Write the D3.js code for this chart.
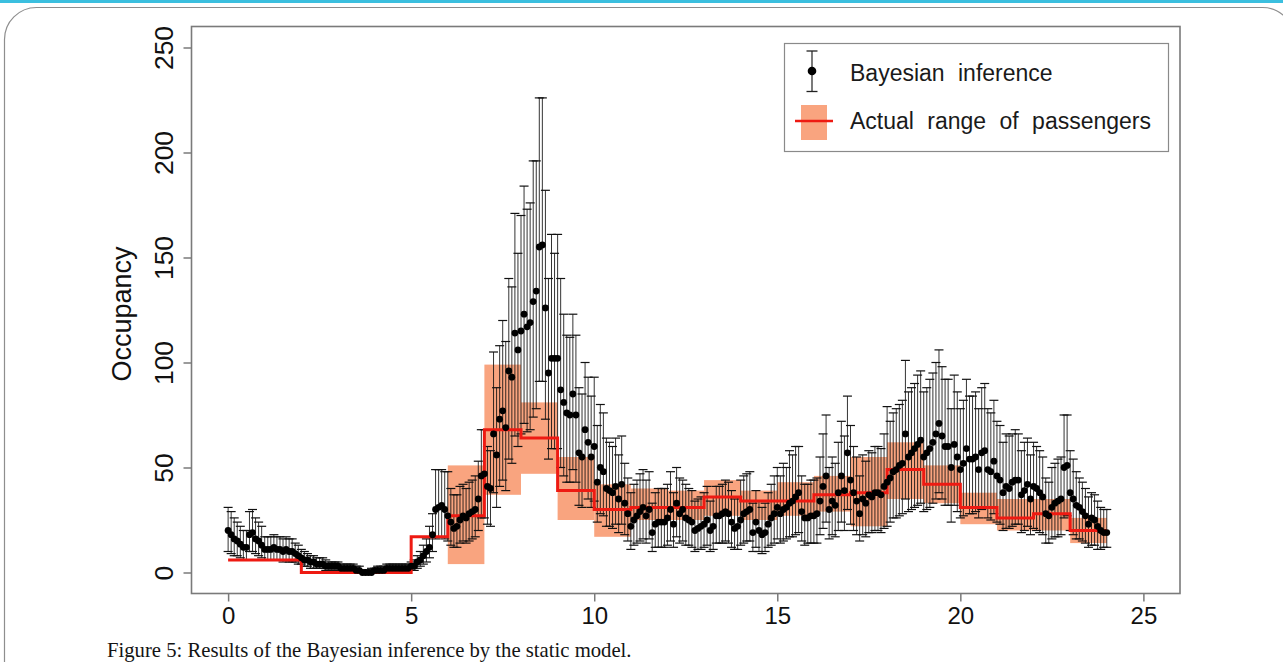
<!DOCTYPE html>
<html>
<head>
<meta charset="utf-8">
<script src="https://cdn.jsdelivr.net/npm/d3@7"></script>
<style>
  html, body { margin: 0; padding: 0; background: #fff; }
  svg { display: block; }
</style>
</head>
<body>
<svg id="fig" width="1283" height="662"></svg>
<script>
// Bayesian estimate of bus occupancy, one value every 5 minutes from 0:00 to 24:00
const stepMinutes = 5;
const occupancyMean = [
  20,18,16,15,13.5,12,12,18,19,16,15,13,
  11,11,11,12,11,11,10,11,10,10,9,8,
  7,6,6,5,5,4,4,4,3,3,3,3,
  3,2,2,2,2,2,1,1,0,0,0,0,
  1,1,1,1,2,2,2,2,2,2,2,2,
  3,3,5,6,8,10,12,18,30,31,32,30,
  27,24,21,22,25,27,26,28,29,30,35,46,
  47,41,40,66,56,73,77,69,96,93,114,106,
  115,123,117,119,129,134,155,156,126,95,102,102,
  102,87,81,76,75,85,75,57,55,68,62,55,
  60,43,50,48,40,39,38,41,35,42,33,28,
  22,25,27,29,31,27,30,19,23,24,24,24,
  26,30,23,33,28,30,26,25,24,20,21,22,
  23,25,20,22,27,27,28,29,28,24,21,22,
  25,28,29,30,19,24,20,18,19,23,26,28,
  31,28,30,31,33,34,36,38,29,26,26,27,
  27,28,34,41,46,30,34,32,38,46,39,57,
  44,38,34,28,35,33,37,36,38,38,37,41,
  43,45,48,49,51,52,66,55,57,59,61,63,
  55,57,59,62,66,71,65,60,60,50,61,55,
  49,52,59,54,54,55,49,57,58,49,48,53,
  46,44,38,41,40,43,44,44,37,39,42,35,
  41,40,38,36,28,27,31,33,34,35,50,51,
  38,35,32,31,29,27,23,26,25,22,20,19,
  19
];
// upper end of each credible interval
const occupancyUpper = [
  31,29,26,24,22,20,20,29,30,26,24,22,
  17,17,17,18,17,17,16,17,16,16,14,13,
  11,10,9,8,8,7,7,7,6,5,5,5,
  5,4,4,4,4,4,3,3,1,1,1,2,
  2,3,3,3,4,4,4,4,4,4,4,4,
  5,6,8,10,13,16,22,28,49,49,49,48,
  48,40,37,37,41,42,40,43,44,46,53,68,
  68,60,58,105,88,108,120,110,140,136,171,152,
  170,184,173,176,196,196,226,226,182,140,161,152,
  161,140,123,113,112,123,113,88,85,100,93,84,
  93,70,80,76,64,62,60,64,56,65,52,45,
  38,42,44,47,49,44,48,33,38,40,40,40,
  42,48,38,50,45,44,42,40,39,34,35,36,
  38,41,34,36,41,41,42,44,43,39,35,36,
  44,46,47,48,33,39,34,31,33,38,42,46,
  50,46,52,50,58,56,60,60,46,42,42,44,
  44,45,55,66,75,50,55,52,62,72,65,84,
  70,60,55,46,56,53,58,57,60,60,59,66,
  79,72,76,78,80,82,101,86,88,90,94,96,
  86,88,92,95,100,106,98,92,92,78,94,86,
  78,82,92,84,84,86,78,88,90,78,76,82,
  72,70,62,66,65,66,68,66,58,62,64,56,
  62,60,58,55,45,43,50,52,54,55,75,75,
  58,54,48,45,43,40,36,38,37,34,31,30,
  30
];
// lower end of each credible interval
const occupancyLower = [
  10,9,8,8,7,6,6,10,10,9,8,7,
  6,6,6,6,6,6,5,6,5,5,5,4,
  4,3,3,2,2,2,2,2,1,1,1,1,
  1,1,1,1,1,1,0,0,0,0,0,0,
  0,0,0,0,1,1,1,1,1,1,1,1,
  1,1,2,3,4,5,7,10,16,17,17,16,
  15,13,12,12,14,15,14,15,16,17,20,26,
  26,23,22,38,31,41,44,39,54,52,65,60,
  66,71,67,68,74,78,91,91,73,54,59,59,
  59,50,46,43,43,49,43,32,31,39,35,31,
  34,24,28,27,22,22,21,23,19,23,18,15,
  11,13,14,15,16,14,16,10,12,12,12,12,
  13,15,12,17,14,15,13,13,12,10,11,11,
  12,13,10,11,14,14,14,15,14,12,11,11,
  13,14,15,15,10,12,10,9,10,12,13,14,
  16,14,15,16,17,17,18,19,15,13,14,14,
  14,14,18,21,24,16,18,17,20,24,20,30,
  23,20,18,15,18,17,19,19,20,20,19,21,
  22,24,26,26,27,28,35,29,30,31,32,33,
  29,30,31,33,35,38,35,32,32,24,32,29,
  26,27,31,28,28,29,26,30,31,26,25,28,
  24,23,20,21,21,22,23,23,19,20,22,18,
  21,20,19,18,14,14,16,17,17,18,26,27,
  20,18,16,16,15,14,12,13,13,11,11,12,
  12
];

// observed passengers per hour: representative count and min/max range
const hourStart        = [0,1,2,3,4,5,6,7,8,9,10,11,12,13,14,15,16,17,18,19,20,21,22,23];
const actualPassengers = [6,6,0,0,0,17,27,68,64,39,30,31,31,36,34,34,37,38,49,42,31,26,28,20];
const actualMin        = [6,6,0,0,0,17,4,37,47,25,17,25,25,27,25,27,29,22,35,33,23,20,20,14];
const actualMax        = [6,6,0,0,0,17,51,99,81,55,42,40,39,44,39,43,46,55,62,51,38,35,35,26];

const xTicks = [0, 5, 10, 15, 20, 25];
const yTicks = [0, 50, 100, 150, 200, 250];

const legendLabels = ["Bayesian inference", "Actual range of passengers"];
const yLabel = "Occupancy";
const caption = "Figure 5: Results of the Bayesian inference by the static model.";

// ---------------------------------------------------------------------------
const svg = d3.select("#fig");
const W = 1283, H = 662;
const axisFont = "'Liberation Sans', Arial, Helvetica, sans-serif";

// page decoration: accent strip and rounded frame
svg.append("rect").attr("x", 0).attr("y", 0).attr("width", W).attr("height", 3)
  .attr("fill", "#3bbfdf");
svg.append("rect").attr("x", 4.5).attr("y", 7.5).attr("width", 1290).attr("height", 720)
  .attr("rx", 32).attr("fill", "none").attr("stroke", "#8e8e8e").attr("stroke-width", 1.2);

const x = d3.scaleLinear().domain([-1, 26]).range([191.5, 1180]);
const y = d3.scaleLinear().domain([-10, 260]).range([593.5, 26.5]);

const points = occupancyMean.map((m, i) => ({
  t: i * stepMinutes / 60,
  mean: m,
  lo: occupancyLower[i],
  hi: occupancyUpper[i]
}));

const hours = hourStart.map((h, i) => ({
  h, val: actualPassengers[i], min: actualMin[i], max: actualMax[i]
}));

const plot = svg.append("g");

// hourly ranges of actual passengers
plot.append("g").selectAll("rect")
  .data(hours.filter(d => d.max > d.min))
  .join("rect")
  .attr("x", d => x(d.h))
  .attr("width", d => x(d.h + 1) - x(d.h))
  .attr("y", d => y(d.max))
  .attr("height", d => y(d.min) - y(d.max))
  .attr("fill", "#f9a47f");

// credible-interval error bars
const capHalf = 4.5;
const bars = plot.append("g").attr("stroke", "#111").attr("fill", "none");
bars.selectAll("line.stem").data(points).join("line").attr("class", "stem")
  .attr("x1", d => x(d.t)).attr("x2", d => x(d.t))
  .attr("y1", d => y(d.lo)).attr("y2", d => y(d.hi))
  .attr("stroke-width", 1).attr("stroke-opacity", 0.85);
bars.selectAll("line.capHi").data(points).join("line").attr("class", "capHi")
  .attr("x1", d => x(d.t) - capHalf).attr("x2", d => x(d.t) + capHalf)
  .attr("y1", d => y(d.hi)).attr("y2", d => y(d.hi))
  .attr("stroke-width", 1.2);
bars.selectAll("line.capLo").data(points).join("line").attr("class", "capLo")
  .attr("x1", d => x(d.t) - capHalf).attr("x2", d => x(d.t) + capHalf)
  .attr("y1", d => y(d.lo)).attr("y2", d => y(d.lo))
  .attr("stroke-width", 1.2);

// hourly actual passengers as a step line
const stepData = hours.map(d => [d.h, d.val]);
stepData.push([hours[hours.length - 1].h + 1, hours[hours.length - 1].val]);
plot.append("path")
  .datum(stepData)
  .attr("d", d3.line().x(d => x(d[0])).y(d => y(d[1])).curve(d3.curveStepAfter))
  .attr("fill", "none").attr("stroke", "#ee1a12").attr("stroke-width", 3);

// posterior means
plot.append("g").selectAll("circle").data(points).join("circle")
  .attr("cx", d => x(d.t)).attr("cy", d => y(d.mean)).attr("r", 3.4)
  .attr("fill", "#000");

// plot box
svg.append("rect")
  .attr("x", x.range()[0]).attr("y", y.range()[1])
  .attr("width", x.range()[1] - x.range()[0]).attr("height", y.range()[0] - y.range()[1])
  .attr("fill", "none").attr("stroke", "#7a7a7a").attr("stroke-width", 1.6);

// x axis
const gx = svg.append("g").attr("transform", `translate(0,${y.range()[0]})`)
  .call(d3.axisBottom(x).tickValues(xTicks).tickSize(8).tickFormat(d3.format("d")));
gx.select(".domain").remove();
gx.selectAll(".tick line").attr("stroke", "#7a7a7a").attr("stroke-width", 1.5);
gx.selectAll(".tick text")
  .attr("y", 30.5).attr("dy", 0)
  .attr("font-family", axisFont).attr("font-size", 24).attr("fill", "#111");

// y axis with rotated labels
const gy = svg.append("g").attr("transform", `translate(${x.range()[0]},0)`)
  .call(d3.axisLeft(y).tickValues(yTicks).tickSize(8).tickFormat(d3.format("d")));
gy.select(".domain").remove();
gy.selectAll(".tick line").attr("stroke", "#7a7a7a").attr("stroke-width", 1.5);
gy.selectAll(".tick text")
  .attr("x", 0).attr("y", 0).attr("dy", 0)
  .attr("text-anchor", "middle")
  .attr("transform", "translate(-18.5,0) rotate(-90)")
  .attr("font-family", axisFont).attr("font-size", 26.5).attr("fill", "#111");

svg.append("text")
  .attr("transform", "translate(131,314) rotate(-90)")
  .attr("text-anchor", "middle")
  .attr("font-family", axisFont).attr("font-size", 27).attr("fill", "#111")
  .text(yLabel);

// legend
const lg = svg.append("g");
lg.append("rect").attr("x", 784.5).attr("y", 43.5).attr("width", 384).attr("height", 108)
  .attr("fill", "#fff").attr("stroke", "#8a8a8a").attr("stroke-width", 1.2);
lg.append("line").attr("x1", 812).attr("x2", 812).attr("y1", 51).attr("y2", 91.5)
  .attr("stroke", "#222").attr("stroke-width", 1.2);
lg.append("line").attr("x1", 806.5).attr("x2", 817.5).attr("y1", 51).attr("y2", 51)
  .attr("stroke", "#222").attr("stroke-width", 1.3);
lg.append("line").attr("x1", 806.5).attr("x2", 817.5).attr("y1", 91.5).attr("y2", 91.5)
  .attr("stroke", "#222").attr("stroke-width", 1.3);
lg.append("circle").attr("cx", 812).attr("cy", 71).attr("r", 4.3).attr("fill", "#000");
lg.append("rect").attr("x", 801).attr("y", 105).attr("width", 26).attr("height", 35)
  .attr("fill", "#f9a47f");
lg.append("line").attr("x1", 795).attr("x2", 833).attr("y1", 121).attr("y2", 121)
  .attr("stroke", "#ee1a12").attr("stroke-width", 2.5);
lg.selectAll("text.lbl").data(legendLabels).join("text").attr("class", "lbl")
  .attr("x", 850).attr("y", (d, i) => 81 + i * 48)
  .attr("font-family", axisFont).attr("font-size", 23).attr("fill", "#1a1a1a")
  .attr("word-spacing", 7)
  .text(d => d);

// caption
svg.append("text")
  .attr("x", 107).attr("y", 657)
  .attr("font-family", "'Liberation Serif', 'DejaVu Serif', serif")
  .attr("font-size", 20.7).attr("fill", "#141414")
  .text(caption);
</script>
</body>
</html>
